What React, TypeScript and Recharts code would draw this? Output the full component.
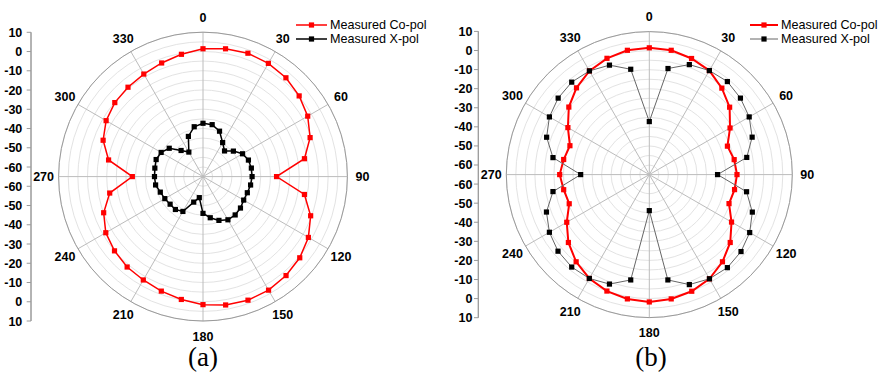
import {
  RadarChart,
  Radar,
  PolarGrid,
  PolarAngleAxis,
  PolarRadiusAxis,
  Legend,
  LineChart,
  Line,
  XAxis,
  YAxis,
} from "recharts";

// angles of the measured points (deg, clockwise from top)
const angles = [
  0, 10, 20, 30, 40, 50, 60, 70, 80, 90, 100, 110, 120, 130, 140, 150, 160, 170,
  180, 190, 200, 210, 220, 230, 240, 250, 260, 270, 280, 290, 300, 310, 320, 330, 340, 350,
];
const angleTicks = [0, 30, 60, 90, 120, 150, 180, 210, 240, 270, 300, 330];
const ringTicks = [-65, -60, -55, -50, -45, -40, -35, -30, -25, -20, -15, -10, -5, 0, 5, 10];
const dbLabels = [10, 0, -10, -20, -30, -40, -50, -60];
const dbMinor = [
  10, 8, 6, 4, 2, 0, -2, -4, -6, -8, -10, -12, -14, -16, -18, -20, -22, -24, -26, -28, -30,
  -32, -34, -36, -38, -40, -42, -44, -46, -48, -50, -52, -54, -56, -58, -60, -62, -64,
];
const DB_MIN = -65;
const DB_MAX = 10;

// (a)
const coPolA = [
  1.4, 2.4, 3.2, 2.9, 2.0, 0.2, -2.2, -5.8, -11.5, -26.8, -11.5, -5.5, -1.8, 0.6, 2.1, 3.1, 3.3, 2.7,
  1.5, -0.2, -1.7, -3.0, -3.7, -5.0, -6.7, -10.1, -15.8, -28.3, -15.2, -9.8, -6.9, -5.2, -4.4, -3.5, -2.2, -0.5,
];
const xPolA = [
  -37.3, -37.6, -39.9, -44.6, -47.6, -44.4, -41.3, -39.9, -39.5, -39.5, -39.9, -40.5, -40.6, -39.6, -39.0, -39.1, -40.8, -43.3,
  -45.9, -53.9, -50.9, -44.1, -42.7, -42.7, -42.1, -41.4, -40.0, -39.8, -39.6, -39.1, -39.9, -42.1, -47.3, -50.3, -42.8, -38.7,
];

// (b)
const coPolB = [
  1.5, 1.2, -0.2, -2.0, -5.8, -10.0, -16.1, -21.4, -19.8, -19.0, -19.6, -20.5, -15.2, -9.6, -5.3, -1.9, 0.1, 1.2,
  1.8, 1.2, 0.0, -2.1, -5.3, -9.6, -15.0, -20.3, -19.4, -18.0, -19.4, -20.7, -15.7, -9.9, -5.6, -2.2, -0.1, 1.2,
];
const xPolB = [
  -37.2, -8.5, -3.6, -2.0, -1.3, -2.6, -4.5, -7.6, -13.1, -29.2, -13.2, -7.5, -4.2, -2.2, -1.3, -1.9, -3.6, -8.9,
  -46.1, -8.9, -3.9, -2.1, -1.7, -2.5, -4.5, -7.6, -13.7, -29.0, -13.7, -7.7, -4.5, -2.6, -1.7, -2.2, -3.9, -8.9,
];

const dataA = angles.map((angle, i) => ({ angle, co: coPolA[i], x: xPolA[i] }));
const dataB = angles.map((angle, i) => ({ angle, co: coPolB[i], x: xPolB[i] }));

// left scale: distance from the centre in dB, mirrored above / below
const majorPos = [
  ...dbLabels.map((d) => d - DB_MIN),
  ...dbLabels.map((d) => -(d - DB_MIN)),
];
const minorPos = [
  ...dbMinor.map((d) => d - DB_MIN),
  ...dbMinor.map((d) => -(d - DB_MIN)),
];
const axisData = majorPos.map((v, i) => ({ i, v }));

const FONT = "'Liberation Sans', Arial, sans-serif";

type Style = { stroke: string; width: number; marker: string };

const squareDot = (fill: string) => (props: any) => {
  const { cx, cy, index } = props;
  if (!Number.isFinite(cx) || !Number.isFinite(cy)) return <g key={`d-${index}`} />;
  return <rect key={`d-${index}`} x={cx - 2.6} y={cy - 2.6} width={5.2} height={5.2} fill={fill} />;
};

const AngleTick = (props: any) => {
  const { x, y, payload } = props;
  if (payload.value === 360) return <g />;
  return (
    <text
      x={x}
      y={y}
      dy="0.36em"
      textAnchor="middle"
      fontFamily={FONT}
      fontSize={12.5}
      fontWeight="bold"
      fill="#000"
    >
      {payload.value}
    </text>
  );
};

const ScaleTick = (props: any) => {
  const { x, y, payload } = props;
  return (
    <text
      x={x}
      y={y}
      dy="0.36em"
      textAnchor="end"
      fontFamily={FONT}
      fontSize={12.5}
      fontWeight="bold"
      fill="#000"
    >
      {String(Math.round(Math.abs(payload.value) + DB_MIN))}
    </text>
  );
};

// legend rows: line + square marker, then the series name
const legendContent = (styles: Style[], lineW: number) => (props: any) => (
  <div style={{ position: "relative", fontFamily: FONT, fontSize: 12.6, color: "#000" }}>
    {(props.payload || []).map((e: any, i: number) => (
      <div key={e.value} style={{ position: "relative", height: 14.4 }}>
        <svg
          width={lineW}
          height={10}
          style={{ position: "absolute", left: 0, top: 2.2 }}
        >
          <line x1={0} y1={5} x2={lineW} y2={5} stroke={styles[i].stroke} strokeWidth={styles[i].width} />
          <rect x={lineW / 2 - 2.6} y={2.4} width={5.2} height={5.2} fill={styles[i].marker} />
        </svg>
        <span
          style={{
            position: "absolute",
            left: lineW + 3,
            top: 0,
            lineHeight: "14.4px",
            whiteSpace: "nowrap",
          }}
        >
          {e.value}
        </span>
      </div>
    ))}
  </div>
);

type PanelProps = {
  left: number;
  data: any[];
  cx: number;
  cy: number;
  r: number;
  co: Style;
  xp: Style;
  legendLeft: number;
  legendLine: number;
  axisWidth: number;
  axisTop: number;
  axisBottom: number;
  tickMargin: number;
  label: string;
  labelX: number;
};

function ScaleAxis({ p, minor }: { p: PanelProps; minor: boolean }) {
  const span = DB_MAX - DB_MIN;
  return (
    <div style={{ position: "absolute", left: 0, top: 0 }}>
      <LineChart
        width={p.axisWidth + 12}
        height={373}
        data={axisData}
        margin={{ top: p.axisTop, right: 12, bottom: 373 - p.axisBottom, left: 0 }}
      >
        <XAxis dataKey="i" hide />
        <YAxis
          type="number"
          domain={[-span, span]}
          allowDataOverflow
          ticks={minor ? minorPos : majorPos}
          interval={0}
          width={p.axisWidth}
          tickSize={minor ? 2.4 : 4.3}
          tickMargin={p.tickMargin}
          tick={minor ? false : ScaleTick}
          axisLine={{ stroke: "#9a9a9a" }}
          tickLine={{ stroke: "#9a9a9a" }}
        />
        <Line dataKey="v" stroke="none" dot={false} activeDot={false} isAnimationActive={false} />
      </LineChart>
    </div>
  );
}

function Panel(p: PanelProps) {
  const styles = [p.co, p.xp];
  return (
    <div style={{ position: "absolute", left: p.left, top: 0, width: 440, height: 373 }}>
      <div style={{ position: "absolute", left: 0, top: 0 }}>
        <RadarChart
          width={440}
          height={373}
          data={p.data}
          cx={p.cx}
          cy={p.cy}
          outerRadius={p.r}
          startAngle={90}
          endAngle={-270}
          margin={{ top: 0, right: 0, bottom: 0, left: 0 }}
        >
          <PolarGrid gridType="circle" radialLines={false} stroke="#e3e3e3" />
          <PolarGrid gridType="circle" polarRadius={[]} stroke="#bcbcbc" />
          <PolarAngleAxis
            dataKey="angle"
            type="number"
            domain={[0, 360]}
            ticks={angleTicks as any}
            tick={AngleTick}
            tickSize={15}
            tickLine={false}
            axisLineType="circle"
            axisLine={{ stroke: "#9a9a9a" }}
          />
          <PolarRadiusAxis
            type="number"
            domain={[DB_MIN, DB_MAX]}
            ticks={ringTicks as any}
            tick={false}
            axisLine={false}
          />
          <Radar
            name="Measured Co-pol"
            dataKey="co"
            stroke={p.co.stroke}
            strokeWidth={p.co.width}
            fill="none"
            fillOpacity={0}
            dot={squareDot(p.co.marker)}
            isAnimationActive={false}
          />
          <Radar
            name="Measured X-pol"
            dataKey="x"
            stroke={p.xp.stroke}
            strokeWidth={p.xp.width}
            fill="none"
            fillOpacity={0}
            dot={squareDot(p.xp.marker)}
            isAnimationActive={false}
          />
          <Legend
            content={legendContent(styles, p.legendLine)}
            wrapperStyle={{ position: "absolute", left: p.legendLeft, top: 17.6, width: 130, height: 30 }}
          />
        </RadarChart>
      </div>
      <ScaleAxis p={p} minor />
      <ScaleAxis p={p} minor={false} />
      <div
        style={{
          position: "absolute",
          left: p.labelX - 40,
          width: 80,
          top: 344,
          textAlign: "center",
          fontFamily: "'Liberation Serif', 'Times New Roman', serif",
          fontSize: 27,
          lineHeight: "27px",
          color: "#000",
        }}
      >
        {p.label}
      </div>
    </div>
  );
}

export default function App() {
  return (
    <div
      style={{
        position: "absolute",
        left: 0,
        top: 0,
        width: 880,
        height: 373,
        background: "#fff",
        overflow: "hidden",
      }}
    >
      <Panel
        left={0}
        data={dataA}
        cx={203}
        cy={176.6}
        r={144.4}
        co={{ stroke: "#ff0000", width: 1.5, marker: "#ff0000" }}
        xp={{ stroke: "#000000", width: 1.5, marker: "#000000" }}
        legendLeft={296}
        legendLine={31}
        axisWidth={31}
        axisTop={32.3}
        axisBottom={321}
        tickMargin={4.4}
        label="(a)"
        labelX={203}
      />
      <Panel
        left={440}
        data={dataB}
        cx={209.3}
        cy={174.6}
        r={143}
        co={{ stroke: "#ff0000", width: 2, marker: "#ff0000" }}
        xp={{ stroke: "#666666", width: 1, marker: "#000000" }}
        legendLeft={310}
        legendLine={28}
        axisWidth={38.3}
        axisTop={31.4}
        axisBottom={317.7}
        tickMargin={1.6}
        label="(b)"
        labelX={211}
      />
    </div>
  );
}
